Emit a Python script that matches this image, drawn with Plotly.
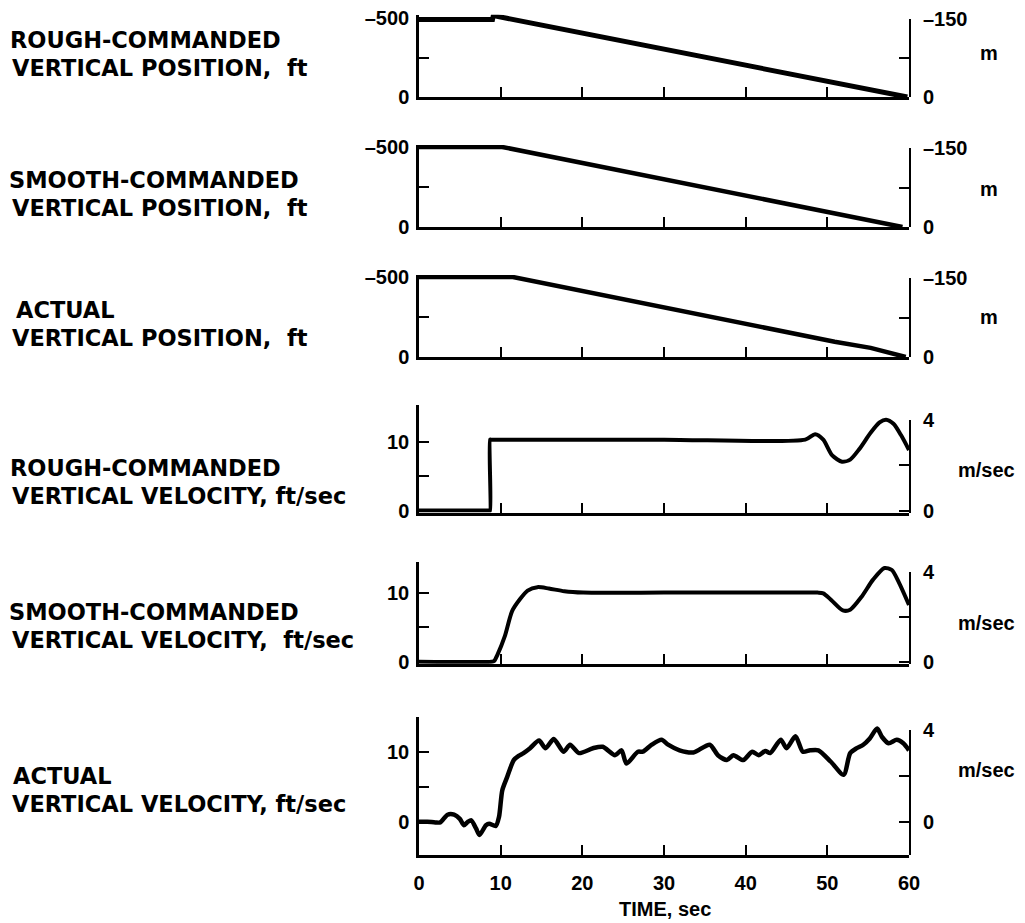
import plotly.graph_objects as go

W, H = 1025, 923
FT_PER_M = 3.2808

# ---------------- data ----------------
time_rough_pos = [0, 9.0, 9.1, 59.8]
rough_pos_ft = [-490, -490, -515, 0]

time_smooth_pos = [0, 10.2, 59.2]
smooth_pos_ft = [-500, -500, 0]

time_actual_pos = [0, 11.5, 50.9, 55.3, 59.6]
actual_pos_ft = [-500, -500, -95, -57, 0]

time_rough_vel = [0, 8.6, 8.7, 8.7, 8.8, 30.0, 47.3, 48.5, 49.5, 50.6, 51.8, 52.8, 53.9,
                  55.3, 56.4, 57.2, 58.1, 59.0, 60.0]
rough_vel_fps = [0, 0, 0, 10.3, 10.3, 10.3, 10.3, 11.1, 10.3, 8.0, 7.1, 7.4, 8.9,
                 11.3, 12.8, 13.2, 12.6, 11.0, 8.8]

time_smooth_vel = [0, 8.9, 9.2, 9.6, 10.5, 11.4, 12.4, 13.3, 14.5, 15.9, 17.8, 20.1, 30.0, 40.0,
                   48.8, 49.5, 50.5, 51.9, 52.8, 54.2, 55.6, 57.0, 57.9, 58.8, 60.0]
smooth_vel_fps = [0, 0, 0.1, 1.0, 3.7, 7.4, 9.2, 10.4, 10.9, 10.7, 10.3, 10.1, 10.1, 10.1,
                  10.1, 10.0, 9.0, 7.5, 7.6, 9.5, 12.0, 13.7, 13.4, 11.5, 8.3]

time_actual_vel = [0, 1.0, 2.0, 2.6, 3.5, 4.3, 5.0, 5.5, 6.0, 6.4, 7.0, 7.4, 8.2, 8.6, 9.4, 9.8,
                   10.2, 10.8, 11.6, 12.2, 12.8, 13.6, 14.7, 15.5, 16.5, 17.7, 18.5, 19.6, 21.3,
                   22.5, 24.0, 24.8, 25.4, 26.8, 27.4, 28.5, 29.7, 30.5, 31.9, 33.6, 35.6, 36.6,
                   37.7, 38.5, 39.7, 40.8, 41.6, 42.4, 43.0, 44.3, 45.0, 46.1, 47.0, 47.9, 48.9,
                   50.4, 52.0, 52.8, 53.6, 54.4, 55.2, 56.1, 56.7, 57.5, 58.5, 59.3, 60.0]
actual_vel_fps = [0.0, 0.0, -0.1, -0.1, 1.0, 1.0, 0.4, -0.5, 0.0, 0.2, -1.0, -1.9, -0.5, -0.3,
                  -0.6, 0.7, 4.5, 6.4, 8.8, 9.4, 9.8, 10.5, 11.6, 10.5, 11.8, 10.0, 11.0, 9.8,
                  10.5, 10.7, 9.5, 10.2, 8.3, 10.0, 10.0, 11.0, 11.7, 11.0, 10.2, 9.9, 11.0, 9.5,
                  8.8, 9.5, 8.8, 10.0, 9.5, 10.1, 9.8, 11.7, 10.5, 12.2, 10.0, 10.2, 10.2,
                  8.6, 6.7, 9.8, 10.5, 11.0, 11.9, 13.3, 12.1, 11.2, 11.7, 11.2, 10.2]

time_ticks = [0, 10, 20, 30, 40, 50, 60]

label_lines = [
    ("ROUGH-COMMANDED", "VERTICAL POSITION,  ft"),
    ("SMOOTH-COMMANDED", "VERTICAL POSITION,  ft"),
    ("ACTUAL", "VERTICAL POSITION,  ft"),
    ("ROUGH-COMMANDED", "VERTICAL VELOCITY, ft/sec"),
    ("SMOOTH-COMMANDED", "VERTICAL VELOCITY,  ft/sec"),
    ("ACTUAL", "VERTICAL VELOCITY, ft/sec"),
]
right_units = ["m", "m", "m", "m/sec", "m/sec", "m/sec"]

# ---------------- layout geometry (pixels) ----------------
def fx(px):
    return px / W

def fy(py):
    return 1 - py / H

X0, X1 = 419, 909
# (value a, pixel a, value b, pixel b, left range)
panels = [
    (0, 97, -500, 18, [0, -520]),
    (0, 227, -500, 147, [0, -512]),
    (0, 357, -500, 277, [0, -512]),
    (0, 510.5, 10, 441.7, [-0.3, 15.35]),
    (0, 661.7, 10, 593.3, [-0.3, 14.6]),
    (0, 821.7, 10, 751.7, [-4.76, 15.0]),
]
label_y = [(40, 68), (180, 208), (310, 338), (468, 496), (612, 640), (776, 804)]
label_x = [(8, 10), (7, 10), (14, 10), (8, 10), (7, 10), (11, 10)]
unit_y = [53, 189, 317, 470, 623, 770]
unit_x = [989, 989, 989, 986, 986, 986]

series = [
    (time_rough_pos, rough_pos_ft, "linear", 5),
    (time_smooth_pos, smooth_pos_ft, "linear", 4.5),
    (time_actual_pos, actual_pos_ft, "linear", 4.5),
    (time_rough_vel, rough_vel_fps, "spline", 4),
    (time_smooth_vel, smooth_vel_fps, "spline", 4),
    (time_actual_vel, actual_vel_fps, "spline", 4.5),
]

TICKFONT = dict(family="Liberation Sans, Arial, sans-serif", size=20, color="black", weight="bold")
LABELFONT = dict(family="DejaVu Sans, sans-serif", size=22.5, color="black", weight="bold")

fig = go.Figure()
layout = dict(
    width=W, height=H,
    margin=dict(l=0, r=0, t=0, b=0, autoexpand=False),
    paper_bgcolor="white", plot_bgcolor="rgba(0,0,0,0)",
    showlegend=False,
    annotations=[],
)

for i, (va, pa, vb, pb_, rng) in enumerate(panels):
    n = i + 1
    nr = i + 7
    # pixel of the range ends through the linear value->pixel map
    k = (pb_ - pa) / (vb - va)
    px_lo = pa + (rng[0] - va) * k
    px_hi = pa + (rng[1] - va) * k
    d0, d1 = fy(px_lo), fy(px_hi)
    xs, ys, shape, lw = series[i]
    fig.add_trace(go.Scatter(
        x=xs, y=ys, mode="lines", xaxis=f"x{n}", yaxis=f"y{n}",
        line=dict(color="black", width=lw, shape=shape, smoothing=0.7),
        hoverinfo="skip"))
    # dummy trace so the right-hand metric axis exists
    fig.add_trace(go.Scatter(x=[None], y=[None], xaxis=f"x{n}", yaxis=f"y{nr}",
                             mode="lines", hoverinfo="skip"))

    last = (n == 6)
    layout[f"xaxis{n}"] = dict(
        domain=[fx(X0), fx(X1)], range=[0, 60], anchor=f"y{n}",
        showline=True, linecolor="black", linewidth=2.5,
        ticks="inside", ticklen=10, tickwidth=2, tickcolor="black",
        tickvals=time_ticks if last else time_ticks[1:-1],
        showticklabels=last, tickfont=TICKFONT, ticklabelstandoff=8,
        showgrid=False, zeroline=False, fixedrange=True, automargin=False,
    )
    if i < 3:
        lvals = [-500, -250, 0]
        ltext = ["–500", "", "0"]
        top_ft = -150 * FT_PER_M
        rrange = [rng[0] / FT_PER_M, -150]
        rvals = [0, -75, -150]
        rtext = ["0", "", "–150"]
    else:
        lvals = [0, 5, 10, rng[1]]
        ltext = ["0", "", "10", ""]
        top_ft = 4 * FT_PER_M
        rrange = [rng[0] / FT_PER_M, 4]
        rvals = [0, 2, 4]
        rtext = ["0", "", "4"]
    rd1 = fy(pa + (top_ft - va) * k)
    layout[f"yaxis{n}"] = dict(
        domain=[d0, d1], range=rng, anchor=f"x{n}", side="left",
        showline=True, linecolor="black", linewidth=2.5,
        ticks="inside", ticklen=10, tickwidth=2, tickcolor="black",
        tickvals=lvals, ticktext=ltext, tickfont=TICKFONT, ticklabelstandoff=3,
        showgrid=False, zeroline=False, fixedrange=True, automargin=False,
    )
    layout[f"yaxis{nr}"] = dict(
        domain=[d0, rd1], range=rrange, anchor=f"x{n}", side="right",
        showline=True, linecolor="black", linewidth=2,
        ticks="inside", ticklen=10, tickwidth=2, tickcolor="black",
        tickvals=rvals, ticktext=rtext, tickfont=TICKFONT, ticklabelstandoff=8,
        showgrid=False, zeroline=False, fixedrange=True, automargin=False,
    )

    (l1, l2) = label_lines[i]
    (y1, y2) = label_y[i]
    (x1, x2) = label_x[i]
    for txt, xx, yy in ((l1, x1, y1), (l2, x2, y2)):
        layout["annotations"].append(dict(
            text=txt.replace("  ", "\u00a0 "), x=fx(xx), y=fy(yy), xref="paper", yref="paper",
            xanchor="left", yanchor="middle", showarrow=False, font=LABELFONT))
    layout["annotations"].append(dict(
        text=right_units[i], x=fx(unit_x[i]), y=fy(unit_y[i]), xref="paper", yref="paper",
        xanchor="center", yanchor="middle", showarrow=False, font=TICKFONT))

layout["annotations"].append(dict(
    text="TIME, sec", x=fx(665), y=fy(909), xref="paper", yref="paper",
    xanchor="center", yanchor="middle", showarrow=False,
    font=dict(family="Liberation Sans, Arial, sans-serif", size=20, color="black", weight="bold")))

fig.update_layout(**layout)
fig.write_html("out.html")
